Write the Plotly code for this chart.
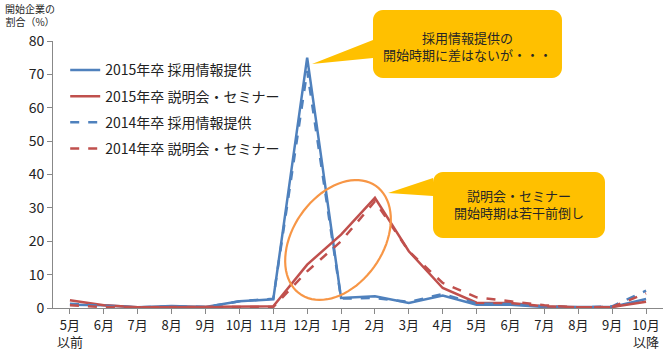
import numpy as np
import plotly.graph_objects as go

months = ["5月<br>以前", "6月", "7月", "8月", "9月", "10月", "11月", "12月", "1月", "2月",
          "3月", "4月", "5月", "6月", "7月", "8月", "9月", "10月<br>以降"]
info_2015 = [1.0, 0.8, 0.2, 0.6, 0.3, 2.0, 2.6, 75, 3.0, 3.5, 1.5, 3.7, 1.0, 1.0, 0.3, 0.2, 0.3, 2.7]
sem_2015 = [2.3, 0.8, 0.2, 0.3, 0.3, 0.5, 0.5, 13.0, 22.0, 33.0, 17.0, 6.0, 1.6, 1.5, 0.5, 0.2, 0.3, 1.9]
info_2014 = [1.3, 0.6, 0.2, 0.5, 0.3, 2.0, 2.8, 71, 2.8, 3.0, 1.8, 4.2, 1.3, 1.2, 0.5, 0.2, 0.5, 5.2]
sem_2014 = [0.8, 0.3, 0.2, 0.2, 0.2, 0.3, 0.3, 11.0, 20.0, 32.0, 17.0, 7.5, 3.2, 2.0, 0.8, 0.2, 0.3, 4.4]
series_names = ["2015年卒 採用情報提供", "2015年卒 説明会・セミナー",
                "2014年卒 採用情報提供", "2014年卒 説明会・セミナー"]
y_ticks = [0, 10, 20, 30, 40, 50, 60, 70, 80]

BLUE = "#4F81BD"
RED = "#C0504D"
GOLD = "#FFC000"
ORANGE = "#F79646"
FONT = "Noto Sans CJK JP"
TXT = "#262626"

x_idx = list(range(len(months)))
fig = go.Figure()
styles = [(info_2015, BLUE, "solid"), (sem_2015, RED, "solid"),
          (info_2014, BLUE, "dash"), (sem_2014, RED, "dash")]
for i, ((vals, col, dash), name) in enumerate(zip(styles, series_names)):
    fig.add_trace(go.Scatter(x=x_idx, y=vals, mode="lines", name=name,
                             legendgroup=f"g{i}",
                             line=dict(color=col, width=2.5, dash=dash)))

# plot pixel geometry for placing decorative shapes (paper coordinates)
L, R, T, B = 53, 663, 41, 308
def px_to_paper(px, py):
    return (px - L) / (R - L), (B - py) / (B - T)

def to_path(P):
    d = [px_to_paper(px, py) for px, py in P]
    return "M " + " L ".join(f"{p[0]:.4f},{p[1]:.4f}" for p in d) + " Z"

# ellipse around seminar rise
cx, cy, a, b, ang = 338, 240, 66, 45, np.deg2rad(55)
t = np.linspace(0, 2 * np.pi, 80)
ex = cx + a * np.cos(t) * np.cos(ang) - b * np.sin(t) * np.sin(ang)
ey = cy - (a * np.cos(t) * np.sin(ang) + b * np.sin(t) * np.cos(ang))
fig.add_shape(type="path", path=to_path(list(zip(ex, ey))), xref="paper", yref="paper",
              line=dict(color=ORANGE, width=2.2), fillcolor="rgba(0,0,0,0)")

def callout(x0, y0, x1, y1, tip, base_y0, base_y1, r=10):
    P = []
    def arc(cxp, cyp, a0, a1):
        for th in np.linspace(a0, a1, 8):
            P.append((cxp + r * np.cos(th), cyp + r * np.sin(th)))
    arc(x0 + r, y0 + r, np.pi, 1.5 * np.pi)
    arc(x1 - r, y0 + r, 1.5 * np.pi, 2 * np.pi)
    arc(x1 - r, y1 - r, 0, 0.5 * np.pi)
    arc(x0 + r, y1 - r, 0.5 * np.pi, np.pi)
    P.append((x0, base_y1))
    P.append(tip)
    P.append((x0, base_y0))
    return to_path(P)

fig.add_shape(type="path", path=callout(373, 10, 562, 78, (312, 64), 40, 58),
              xref="paper", yref="paper", line=dict(width=0), fillcolor=GOLD, layer="above")
fig.add_shape(type="path", path=callout(433, 172, 605, 238, (388, 193), 178, 196),
              xref="paper", yref="paper", line=dict(width=0), fillcolor=GOLD, layer="above")

for (px, py), text, size in [((467, 46), "採用情報提供の<br>開始時期に差はないが・・・", 13),
                             ((519, 204), "説明会・セミナー<br>開始時期は若干前倒し", 13),
                             ((30, 15), "開始企業の<br>割合（%）", 10)]:
    xp, yp = px_to_paper(px, py)
    fig.add_annotation(x=xp, y=yp, xref="paper", yref="paper", text=text,
                       showarrow=False, font=dict(family=FONT, size=size, color=TXT),
                       align="center", xanchor="center", yanchor="middle")

fig.update_layout(
    width=665, height=361,
    margin=dict(l=L, r=665 - R, t=T, b=361 - B),
    paper_bgcolor="white", plot_bgcolor="white",
    font=dict(family=FONT, size=13, color="#222222"),
    showlegend=True,
    legend=dict(x=0.02, y=0.95, xanchor="left", yanchor="top",
                bgcolor="rgba(0,0,0,0)", font=dict(family=FONT, size=14, color="#222222"),
                tracegroupgap=5),
    xaxis=dict(range=[-0.5, 17.5], tickmode="array", tickvals=x_idx, ticktext=months,
               tickson="boundaries", ticks="outside", ticklen=5, tickcolor="#888888",
               showline=True, linecolor="#888888", linewidth=1, showgrid=False,
               zeroline=False, tickfont=dict(family=FONT, size=13)),
    yaxis=dict(range=[0, 80], tickvals=y_ticks, ticks="outside", ticklen=5,
               tickcolor="#888888", showline=True, linecolor="#888888", linewidth=1,
               showgrid=False, zeroline=False, tickfont=dict(family=FONT, size=14)),
)

fig.write_html("out.html", config={"displayModeBar": False},
               post_script="document.body.style.margin='0';document.body.style.padding='0';")
